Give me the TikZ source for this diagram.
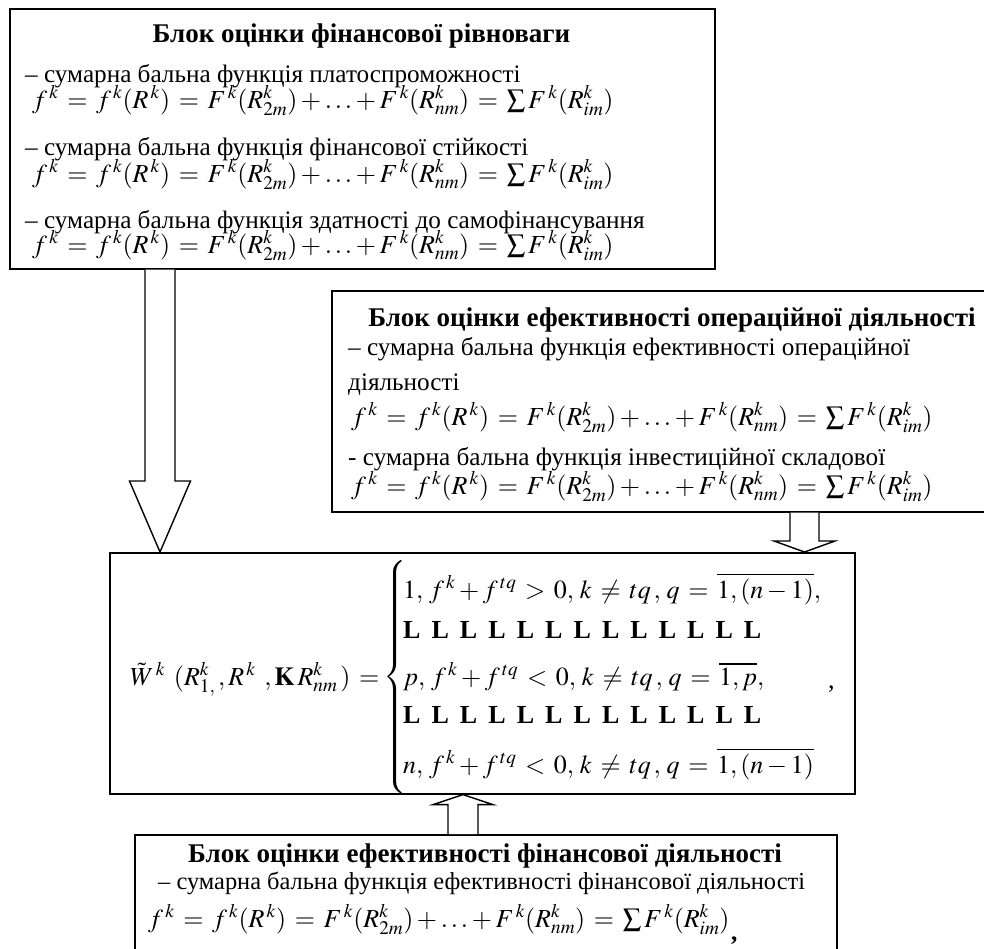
\documentclass[tikz,border=0pt]{standalone}
\usepackage{mathptmx}
\usepackage[no-math]{fontspec}
\setmainfont{Liberation Serif}
\usetikzlibrary{calc}
\newcommand{\fs}{\fontsize{25.2}{29}\selectfont}
\newcommand{\fh}{\fontsize{27}{31}\selectfont\bfseries}
\newcommand{\fm}{\fontsize{26}{30}\selectfont\thickmuskip=6mu}
\newcommand{\supgap}{\,}
\newcommand{\fmlA}{$f^{\supgap k} = f^{\supgap k}(R^{\supgap k}) = F^{\supgap k}(R^{k}_{2m}) + \ldots + F^{\supgap k}(R^{k}_{nm}) = \sum F^{\supgap k}(R^{k}_{im})$}
\newcommand{\LL}{\makebox[28.4pt][l]{\bfseries L}}
\newcommand{\Lrow}{\LL\LL\LL\LL\LL\LL\LL\LL\LL\LL\LL\LL\LL}
\newcommand{\blockarrow}[5]{\draw[barrow] ($(#1)+(-#3,0)$) -- ($(#2)+(-#3,#5)$) -- ($(#2)+(-#4,#5)$) -- (#2) -- ($(#2)+(#4,#5)$) -- ($(#2)+(#3,#5)$) -- ($(#1)+(#3,0)$);}
\tikzset{
  every node/.style={font=\fs},
  frame/.style={draw, line width=1.6pt, inner sep=0pt, anchor=north west},
  ln/.style={anchor=base west, inner sep=0pt},
  fml/.style={anchor=base west, inner sep=0pt, font=\fm},
  hd/.style={anchor=base, inner sep=0pt, font=\fh},
  barrow/.style={draw, line width=1.4pt, fill=white, line join=miter}
}
\begin{document}
\begin{tikzpicture}[x=1pt,y=-1pt]
\useasboundingbox (0,0) rectangle (984,948);
\clip (0,0) rectangle (984,948);
% boxes
\node[frame, minimum width=705pt, minimum height=260pt] (b1) at (9,8) {};
\node[frame, minimum width=682pt, minimum height=221pt] (b2) at (331,290) {};
\node[frame, minimum width=745pt, minimum height=241pt] (mb) at (109,552) {};
\node[frame, minimum width=702pt, minimum height=160pt] (b3) at (134,834) {};
% box 1 text
\node[hd] (h1) at (361.5,42) {Блок оцінки фінансової рівноваги};
\node[ln] (t11) at (25,82) {– сумарна бальна функція платоспроможності};
\node[fml] (f11) at (32,108) {\fmlA};
\node[ln] (t12) at (25,155) {– сумарна бальна функція фінансової стійкості};
\node[fml] (f12) at (32,182) {\fmlA};
\node[ln] (t13) at (25,228) {– сумарна бальна функція здатності до самофінансування};
\node[fml] (f13) at (32,253) {\fmlA};
% box 2 text
\node[hd] (h2) at (672,326) {Блок оцінки ефективності операційної діяльності};
\node[ln] (t21) at (348,355) {– сумарна бальна функція ефективності операційної};
\node[ln] (t21b) at (348,390) {діяльності};
\node[fml] (f21) at (351,425) {\fmlA};
\node[ln] (t22) at (348,465) {- сумарна бальна функція інвестиційної складової};
\node[fml] (f22) at (351,494) {\fmlA};
% main formula
\node[fml] (wl) at (130,685) {$\tilde{W}^{\supgap k}\;(R^{k}_{1,}\,, R^{\supgap k}\;, \mathbf{K}\, R^{k}_{nm}\,) =$};
\node[anchor=west, inner sep=0pt, font=\fm] (br) at (383,677) {$\left\{\vrule height 106pt depth 106pt width 0pt\right.$};
\node[fml] (r1) at (403,598) {$1,\, f^{\supgap k} + f^{\supgap tq} > 0,\, k \ne tq\,,\, q = \overline{1,(n-1)},$};
\node[ln, font=\fm] (r2) at (403,638) {\Lrow};
\node[fml] (r3) at (403,685) {$p,\, f^{\supgap k} + f^{\supgap tq} < 0,\, k \ne tq\,,\, q = \overline{1, p},$};
\node[ln, font=\fm] (r4) at (403,723) {\Lrow};
\node[fml] (r5) at (403,773) {$n,\, f^{\supgap k} + f^{\supgap tq} < 0,\, k \ne tq\,,\, q = \overline{1,(n-1)}$};
\node[fml] (cm1) at (828,688) {,};
% bottom box text
\node[hd] (h3) at (485,862) {Блок оцінки ефективності фінансової діяльності};
\node[ln, font=\fontsize{24.4}{28}\selectfont] (t31) at (158,889) {– сумарна бальна функція ефективності фінансової діяльності};
\node[fml] (f31) at (148,927) {\fmlA};
\node[ln] (cm2) at (731,940) {\bfseries ,};
% block arrows
\coordinate (a1s) at (160,0 |- b1.south);
\coordinate (a1t) at (160,0 |- mb.north);
\coordinate (a2s) at (804.5,0 |- b2.south);
\coordinate (a2t) at (804.5,0 |- mb.north);
\coordinate (a3s) at (463,0 |- b3.north);
\coordinate (a3t) at (463,0 |- mb.south);
\blockarrow{a1s}{a1t}{15}{30.5}{-71}
\blockarrow{a2s}{a2t}{14.5}{30.5}{-11}
\blockarrow{a3s}{a3t}{15}{30}{10}
\end{tikzpicture}
\end{document}
